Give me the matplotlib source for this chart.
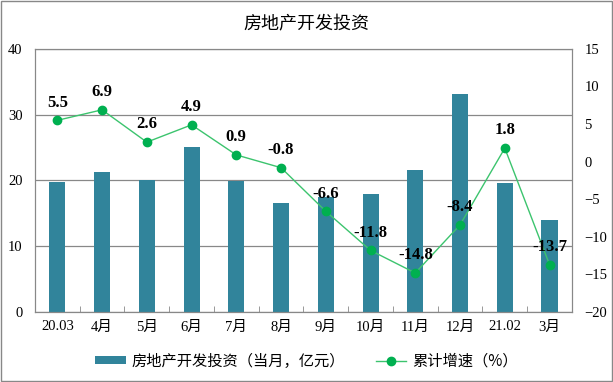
import matplotlib
matplotlib.use('Agg')
import matplotlib.pyplot as plt
from matplotlib.patches import Rectangle
from matplotlib.ticker import FixedLocator

months = ['20.03', '4月', '5月', '6月', '7月', '8月', '9月', '10月', '11月', '12月', '21.02', '3月']
invest = [19.8, 21.3, 20.1, 25.1, 19.9, 16.6, 17.5, 17.9, 21.6, 33.2, 19.6, 14.0]
growth = [5.5, 6.9, 2.6, 4.9, 0.9, -0.8, -6.6, -11.8, -14.8, -8.4, 1.8, -13.7]

fam = ['Liberation Serif', 'Noto Sans CJK SC']
cjk = ['Noto Sans CJK SC', 'DejaVu Sans']
bar_color = '#31849B'
line_color = '#3CC46E'
marker_color = '#00B050'

fig = plt.figure(figsize=(6.13, 3.82), dpi=100)
ax = fig.add_axes([0.057, 0.183, 0.876, 0.689])
ax2 = ax.twinx()

x = list(range(len(months)))
ax.bar(x, invest, width=0.36, color=bar_color, zorder=2, label='房地产开发投资（当月，亿元）')
ax.set_ylim(0, 40)
ax.set_yticks([0, 10, 20, 30, 40])
ax.set_xlim(-0.5, len(months) - 0.5)
ax.set_xticks(x)
ax.set_xticklabels(months, family=fam, fontsize=10.5)
ax.xaxis.set_minor_locator(FixedLocator([i + 0.5 for i in range(len(months) - 1)]))
ax.tick_params(axis='x', which='major', length=0, pad=6)
ax.tick_params(axis='x', which='minor', length=4, direction='in', color='#888888')
ax.tick_params(axis='y', length=0, labelsize=10.5, pad=9)
for lab in ax.get_yticklabels():
    lab.set_family('Liberation Serif')
ax.grid(axis='y', color='#888888', linewidth=0.9, zorder=0)
ax.set_axisbelow(True)

ax2.plot(x, growth, color=line_color, linewidth=1, marker='o', markersize=6,
         markerfacecolor=marker_color, markeredgecolor=marker_color, label='累计增速（%）')
ax2.set_ylim(-20, 15)
ax2.set_yticks(range(-20, 16, 5))
ax2.tick_params(axis='y', length=0, labelsize=10.5, pad=9)
for lab in ax2.get_yticklabels():
    lab.set_family('Liberation Serif')

for xi, g in zip(x, growth):
    ax2.annotate(f'{g:.1f}', (xi, g), xytext=(0, 7), textcoords='offset points',
                 ha='center', va='bottom', fontsize=12, fontweight='bold', family='Liberation Serif')

for a in (ax, ax2):
    for s in a.spines.values():
        s.set_color('#888888')

fig.suptitle('房地产开发投资', y=0.935, fontsize=13, family=cjk, va='center')

h1, l1 = ax.get_legend_handles_labels()
h2, l2 = ax2.get_legend_handles_labels()
fig.legend(h1 + h2, l1 + l2, loc='center', bbox_to_anchor=(0.5, 0.055), ncol=2,
           frameon=False, prop={'family': cjk, 'size': 11}, columnspacing=2,
           handlelength=2, handleheight=0.5, handletextpad=0.4)

fig.patches.append(Rectangle((0.001, 0.002), 0.997, 0.996, transform=fig.transFigure,
                             fill=False, edgecolor='#888888', linewidth=1))

fig.savefig('out.png', dpi=100)
